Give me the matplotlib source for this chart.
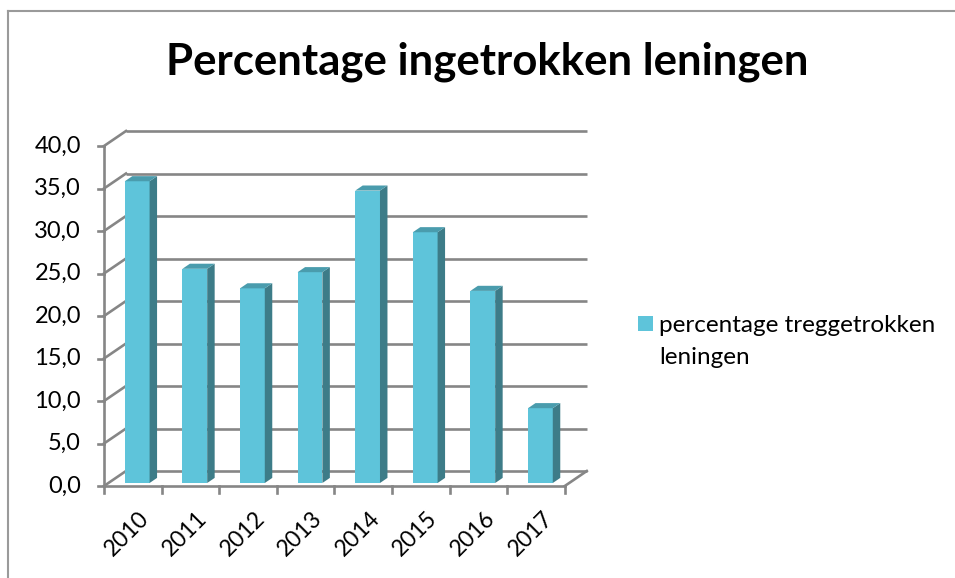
import matplotlib.pyplot as plt
from matplotlib.patches import Polygon, Rectangle
from matplotlib.lines import Line2D

years = ['2010', '2011', '2012', '2013', '2014', '2015', '2016', '2017']
values = [35.5, 25.2, 22.9, 24.8, 34.4, 29.5, 22.6, 8.8]
yticks = [0, 5, 10, 15, 20, 25, 30, 35, 40]
ytick_labels = ['0,0', '5,0', '10,0', '15,0', '20,0', '25,0', '30,0', '35,0', '40,0']
title = 'Percentage ingetrokken leningen'
series_name = 'percentage treggetrokken\nleningen'

plt.rcParams['font.family'] = ['Lato', 'DejaVu Sans']

W, H = 955, 578
fig = plt.figure(figsize=(W / 100, H / 100), dpi=100)
ax = fig.add_axes([0, 0, 1, 1])
# one category = 57.6 px, one value unit = 8.5 px, origin at (104, 486) px
cx, cy = 57.6, 8.5
ax.set_xlim(-104 / cx, (W - 104) / cx)
ax.set_ylim(-(H - 486) / cy, 486 / cy)
ax.axis('off')

n = len(years)
wx, wy = 22 / cx, 15 / cy  # depth of the walls in data units
grid = '#868686'
lw = 1.9

# back wall gridlines and side wall diagonals
for v, lab in zip(yticks, ytick_labels):
    ax.plot([wx, n + wx], [v + wy, v + wy], color=grid, lw=lw, zorder=1, solid_capstyle='butt')
    ax.plot([0, wx], [v, v + wy], color=grid, lw=lw, zorder=1)
    ax.plot([-6 / cx, 0], [v, v], color=grid, lw=lw, zorder=1)
    ax.text(-23 / cx, v, lab, ha='right', va='center', fontsize=17)

# value axis and floor
ax.plot([0, 0], [0, yticks[-1]], color=grid, lw=lw, zorder=1)
ax.plot([0, n], [0, 0], color=grid, lw=lw, zorder=1)
ax.plot([n, n + wx], [0, wy], color=grid, lw=lw, zorder=1)
for i in range(n + 1):
    ax.plot([i, i], [0, -7 / cy], color=grid, lw=lw, zorder=1)

# 3d bars
front, side, top = '#5EC4DA', '#3D7C88', '#4A9CAD'
bw, d0, bd = 0.43, 0.2, 0.34
centers = [i + 0.5 + d0 * wx for i in range(n)]
base = d0 * wy
ax.bar(centers, values, width=bw, bottom=base, color=front, zorder=3)
for c, v in zip(centers, values):
    x1 = c + bw / 2
    x0 = c - bw / 2
    ddx, ddy = bd * wx, bd * wy
    ax.add_patch(Polygon([(x1, base), (x1 + ddx, base + ddy), (x1 + ddx, base + v + ddy), (x1, base + v)],
                         closed=True, facecolor=side, edgecolor='none', zorder=3))
    ax.add_patch(Polygon([(x0, base + v), (x1, base + v), (x1 + ddx, base + v + ddy), (x0 + ddx, base + v + ddy)],
                         closed=True, facecolor=top, edgecolor='none', zorder=3))

for i, year in enumerate(years):
    ax.text(i + 0.6, -2.5, year, rotation=45, ha='right', va='top', rotation_mode='anchor', fontsize=16.5)

# title
fig.text(487.5 / W, 1 - 75 / H, title, ha='center', va='baseline', fontsize=31.5, fontweight='bold')

# legend
fig.patches.append(Rectangle((638 / W, 1 - 331 / H), 15 / W, 15 / H, transform=fig.transFigure,
                             facecolor=front, edgecolor='none'))
fig.text(659 / W, 1 - 332 / H, series_name.split('\n')[0], ha='left', va='baseline', fontsize=17.5)
fig.text(659 / W, 1 - 364 / H, series_name.split('\n')[1], ha='left', va='baseline', fontsize=17.5)

# chart area border (left and top)
fig.add_artist(Line2D([8 / W, 8 / W], [0, 1 - 11 / H], color='#9a9a9a', lw=1.5, transform=fig.transFigure))
fig.add_artist(Line2D([8 / W, 1], [1 - 11 / H, 1 - 11 / H], color='#9a9a9a', lw=1.5, transform=fig.transFigure))

fig.savefig('out.png', dpi=100)
